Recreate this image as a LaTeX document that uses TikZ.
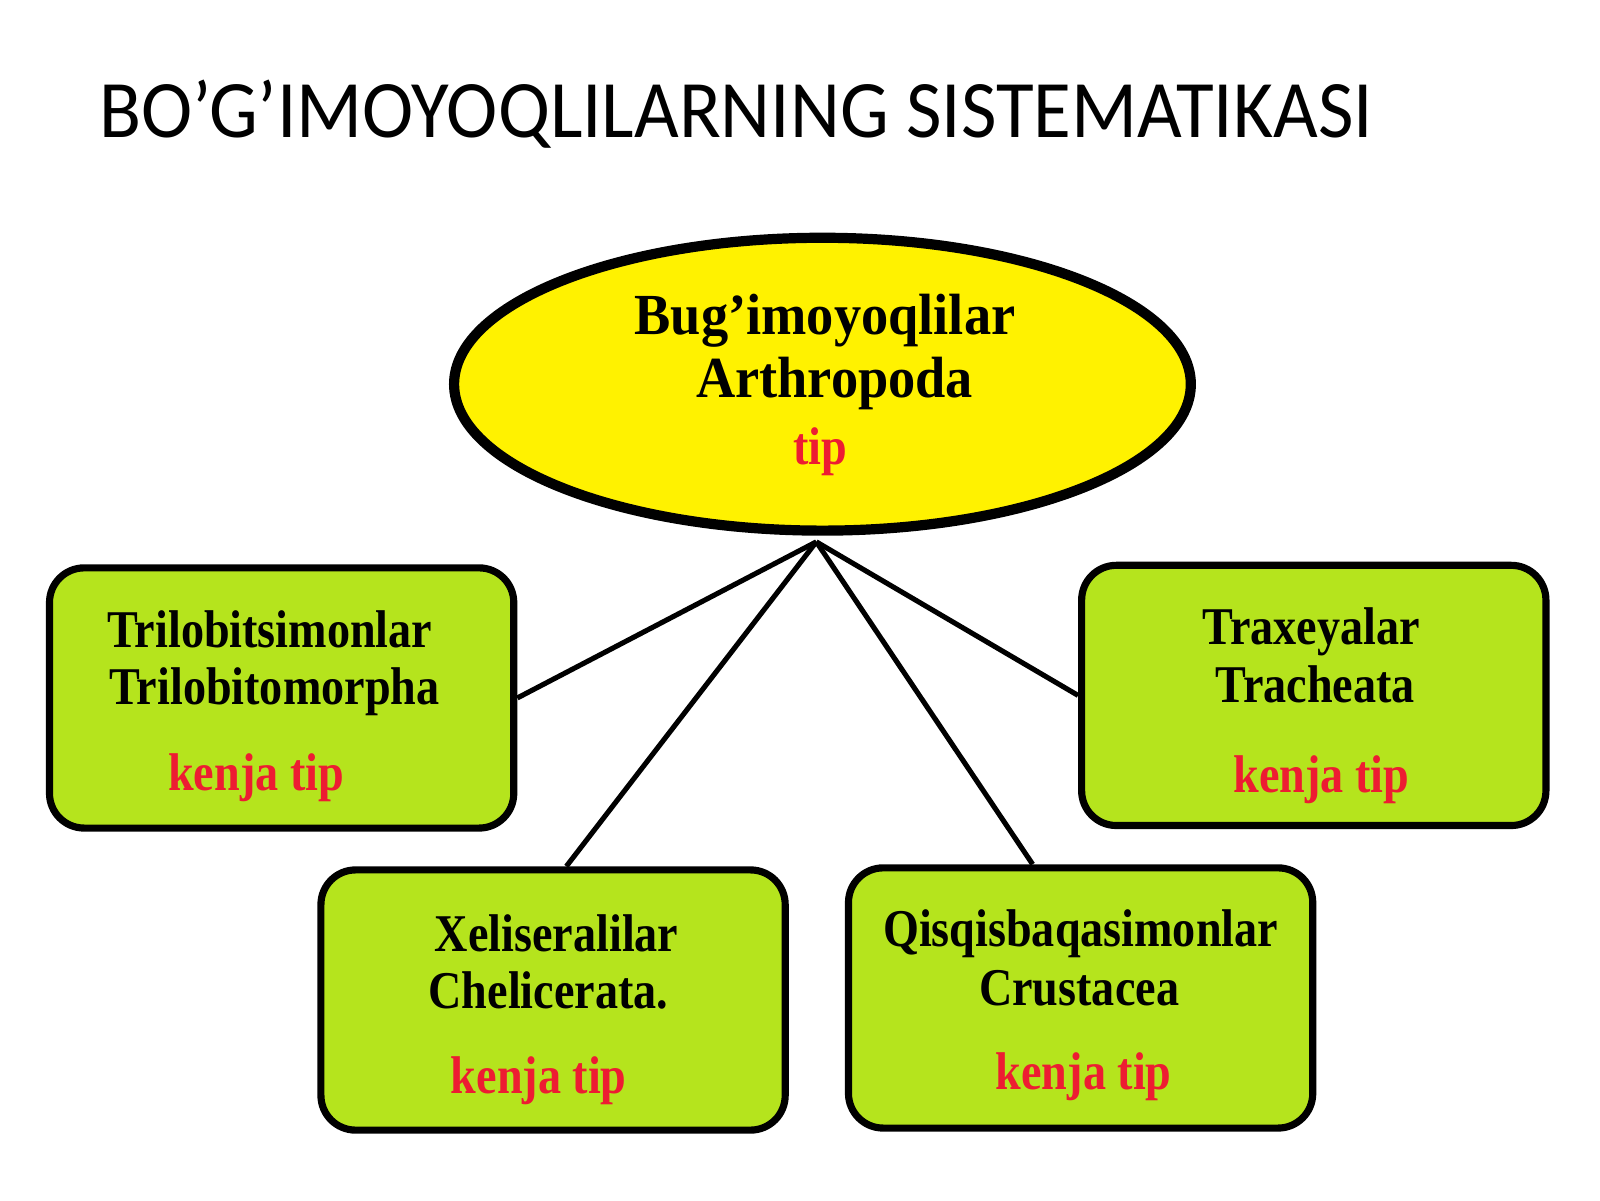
\documentclass[tikz,border=0pt]{standalone}
\usepackage{fontspec}
\usepackage{graphicx}
\setmainfont{Liberation Serif}
\newfontfamily\titlefont{Carlito}
\usetikzlibrary{shapes.geometric,calc}
\definecolor{elyellow}{RGB}{255,242,0}
\definecolor{boxgreen}{RGB}{181,228,29}
\definecolor{tipred}{RGB}{237,28,50}
\tikzset{
  topnode/.style={ellipse, draw=black, line width=10pt, fill=elyellow,
    minimum width=722pt, minimum height=287pt, inner sep=0pt},
  groupbox/.style={rectangle, rounded corners=34pt, draw=black, line width=7pt,
    fill=boxgreen, minimum width=455pt, minimum height=255pt, inner sep=0pt},
  link/.style={line width=5pt, black},
  lbl/.style={anchor=base, inner sep=0pt, font=\bfseries\fontsize{52}{52}\selectfont},
  toplbl/.style={anchor=base, inner sep=0pt, font=\bfseries\fontsize{57}{57}\selectfont},
  redlbl/.style={lbl, text=tipred},
  titlelbl/.style={anchor=base west, inner sep=0pt, font=\titlefont\fontsize{80}{80}\selectfont}
}
\begin{document}
\begin{tikzpicture}[x=1pt,y=-1pt]
\useasboundingbox (0,0) rectangle (1568,1176);
\fill[white] (0,0) rectangle (1568,1176);
% title
\node[titlelbl] (title) at (97,135) {\scalebox{0.946}[1]{BO’G’IMOYOQLILARNING SISTEMATIKASI}};
% top ellipse
\node[topnode] (arth) at (806,376.5) {};
\coordinate (hub) at (800,531);
% boxes
\node[groupbox] (tril) at (276,684) {};
\node[groupbox] (trax) at (1287.5,681.5) {};
\node[groupbox] (xel) at (542,980) {};
\node[groupbox] (qis) at (1059,978) {};
% connectors
\draw[link] (hub) -- (tril.east);
\draw[link] (hub) -- ($(xel.north)+(13,0)$);
\draw[link] (hub) -- ($(qis.north)+(-47,0)$);
\draw[link] (hub) -- (trax.west);
% ellipse text
\node[toplbl] (a1) at (808.5,328) {\scalebox{0.935}[1]{Bug’imoyoqlilar}};
\node[toplbl] (a2) at (818,390) {\scalebox{0.935}[1]{Arthropoda}};
\node[redlbl] (a3) at (804,455) {\scalebox{0.87}[1]{tip}};
% left box
\node[lbl] (t1) at (264.5,635) {\scalebox{0.87}[1]{Trilobitsimonlar}};
\node[lbl] (t2) at (269,690) {\scalebox{0.87}[1]{Trilobitomorpha}};
\node[redlbl] (t3) at (251,775) {\scalebox{0.87}[1]{kenja tip}};
% right box
\node[lbl] (r1) at (1285,632) {\scalebox{0.87}[1]{Traxeyalar}};
\node[lbl] (r2) at (1289,688) {\scalebox{0.87}[1]{Tracheata}};
\node[redlbl] (r3) at (1295,777) {\scalebox{0.87}[1]{kenja tip}};
% bottom-left box
\node[lbl] (x1) at (545.5,932) {\scalebox{0.87}[1]{Xeliseralilar}};
\node[lbl] (x2) at (537.5,988) {\scalebox{0.87}[1]{Chelicerata.}};
\node[redlbl] (x3) at (528,1072) {\scalebox{0.87}[1]{kenja tip}};
% bottom-right box
\node[lbl] (q1) at (1059,928) {\scalebox{0.87}[1]{Qisqisbaqasimonlar}};
\node[lbl] (q2) at (1057.5,985) {\scalebox{0.87}[1]{Crustacea}};
\node[redlbl] (q3) at (1062,1068) {\scalebox{0.87}[1]{kenja tip}};
\end{tikzpicture}
\end{document}
